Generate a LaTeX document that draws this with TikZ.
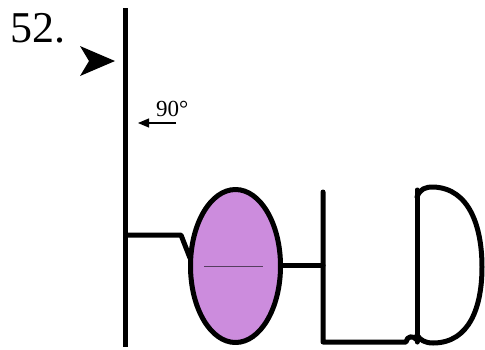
\documentclass[tikz,border=0pt]{standalone}
\usepackage{fontspec}
\setmainfont{Liberation Serif}
\usetikzlibrary{arrows.meta}
\definecolor{bulbfill}{RGB}{204,140,221}
\definecolor{bulbline}{RGB}{85,62,95}
\begin{document}
\begin{tikzpicture}[
    x=1pt,
    y=-1pt,
    wire/.style={draw=black, line width=5pt, line cap=round, line join=round},
    thinwire/.style={draw=black, line width=1.1pt},
    label/.style={inner sep=0pt, anchor=base west}
  ]
    % Frame of the picture (pixel units, y downwards).
    \useasboundingbox (0,0) rectangle (485,349);

    % Number and marker arrow.
    \node[label, font=\fontsize{44}{44}\selectfont] (num) at (10,42) {52.};
    \fill[black] (80,46) -- (115,61) -- (80,76) -- (89,61) -- cycle;

    % Main upright.
    \draw[wire, line cap=butt] (125.5,8) -- (125.5,347);

    % Angle mark.
    \node[label, font=\fontsize{23}{23}\selectfont] (ang) at (156,116) {90°};
    \draw[thinwire, -{Triangle[length=11pt, width=9pt]}] (176,123) -- (138,123);

    % Left stub into the bulb.
    \draw[wire] (125.5,235) -- (181,235) -- (190,258);

    % Bulb.
    \draw[wire, fill=bulbfill] (235.5,266) ellipse [x radius=45, y radius=76.5];
    \draw[bulbline, line width=1pt] (204,266) -- (263,266);

    % Right stub and the L.
    \draw[wire] (281,265) -- (323,265);
    \draw[wire] (323,192) -- (323,342) -- (406,342)
      .. controls (407,336) and (413,335) .. (417,340);

    % The D.
    \draw[wire] (417,190) -- (417,342);
    \draw[wire] (417,197) .. controls (420,189) and (425,187) .. (433,187)
      .. controls (470,188) and (482,228) .. (482,267)
      .. controls (482,306) and (470,343) .. (433,343)
      .. controls (425,343) and (420,340) .. (417,335);
  \end{tikzpicture}
\end{document}
